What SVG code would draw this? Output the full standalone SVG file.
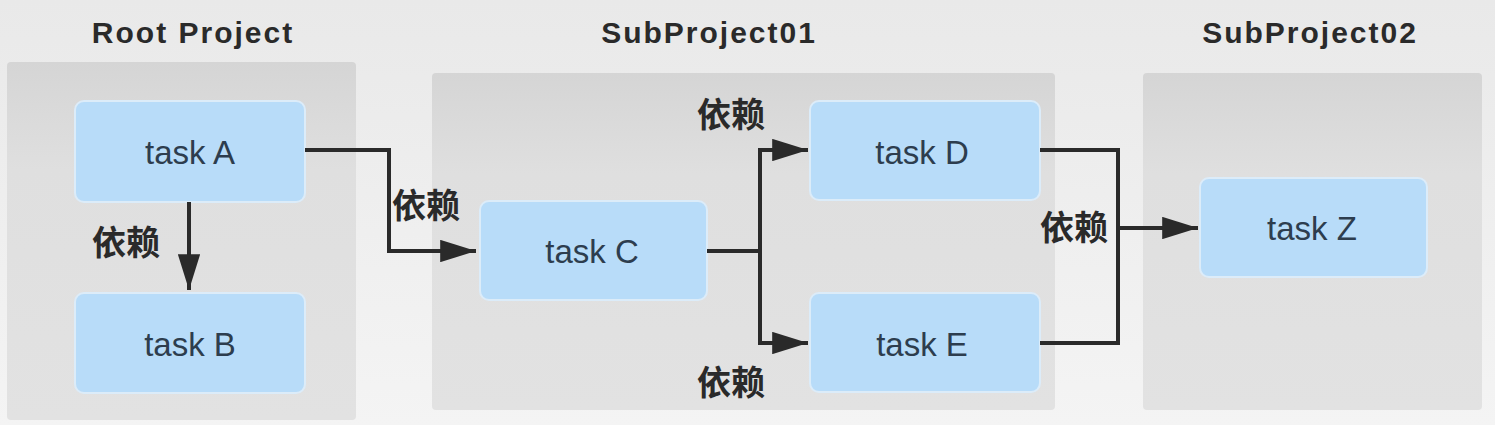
<svg xmlns="http://www.w3.org/2000/svg" width="1495" height="425" viewBox="0 0 1495 425">
<defs>
<linearGradient id="bg" x1="0" y1="0" x2="0" y2="1">
<stop offset="0" stop-color="#e9e9e9"/>
<stop offset="1" stop-color="#f4f4f4"/>
</linearGradient>
<linearGradient id="cont" x1="0" y1="0" x2="0" y2="1">
<stop offset="0" stop-color="#d5d5d5"/>
<stop offset="0.3" stop-color="#dfdfdf"/>
<stop offset="1" stop-color="#e2e2e2"/>
</linearGradient>
<marker id="arr" viewBox="0 0 16 10" refX="16" refY="5" markerWidth="9" markerHeight="5.6" markerUnits="strokeWidth" orient="auto">
<path d="M0,0 L16,5 L0,10 z" fill="#2a2a2a"/>
</marker>
<style>
.cont{fill:url(#cont);}
.task{fill:#b8dcf9;stroke:#dcecf9;stroke-width:2;}
.tl{font-family:"Liberation Sans",Arial,sans-serif;font-size:33px;fill:#2d3d4e;text-anchor:middle;dominant-baseline:central;}
.title{font-family:"Liberation Sans",Arial,sans-serif;font-size:30px;font-weight:bold;fill:#2a2a2a;text-anchor:middle;letter-spacing:2px;}
.dep{font-family:"Liberation Sans","Noto Sans CJK SC",sans-serif;font-size:34px;font-weight:bold;fill:#2a2a2a;text-anchor:middle;dominant-baseline:central;}
.ln{fill:none;stroke:#2a2a2a;stroke-width:4;}
</style>
</defs>
<rect x="0" y="0" width="1495" height="425" fill="url(#bg)"/>
<g id="root-project">
<rect class="cont" x="7" y="62" width="349" height="358" rx="4"/>
<text class="title" x="193" y="43">Root Project</text>
</g>
<g id="subproject01">
<rect class="cont" x="432" y="73" width="623" height="337" rx="4"/>
<text class="title" x="709" y="43">SubProject01</text>
</g>
<g id="subproject02">
<rect class="cont" x="1143" y="73" width="339" height="337" rx="4"/>
<text class="title" x="1310" y="43">SubProject02</text>
</g>
<g id="task-a"><rect class="task" x="75" y="101" width="230" height="101" rx="9"/><text class="tl" x="190" y="152">task A</text></g>
<g id="task-b"><rect class="task" x="75" y="293" width="230" height="100" rx="9"/><text class="tl" x="190" y="344">task B</text></g>
<g id="task-c"><rect class="task" x="480" y="201" width="227" height="99" rx="9"/><text class="tl" x="592" y="251">task C</text></g>
<g id="task-d"><rect class="task" x="810" y="101" width="230" height="99" rx="9"/><text class="tl" x="922" y="152">task D</text></g>
<g id="task-e"><rect class="task" x="810" y="293" width="230" height="99" rx="9"/><text class="tl" x="922" y="344">task E</text></g>
<g id="task-z"><rect class="task" x="1200" y="178" width="227" height="99" rx="9"/><text class="tl" x="1312" y="228">task Z</text></g>
<g id="connectors">
<path class="ln" d="M189,202 V290" marker-end="url(#arr)"/>
<path class="ln" d="M305,150 H389 V251 H476" marker-end="url(#arr)"/>
<path class="ln" d="M707,251 H760"/>
<path class="ln" d="M760,251 V150 H808" marker-end="url(#arr)"/>
<path class="ln" d="M760,251 V343 H808" marker-end="url(#arr)"/>
<path class="ln" d="M1040,150 H1118 V343 H1040"/>
<path class="ln" d="M1118,228 H1198" marker-end="url(#arr)"/>
<text class="dep" x="126" y="243">依赖</text>
<text class="dep" x="426" y="206">依赖</text>
<text class="dep" x="731" y="115">依赖</text>
<text class="dep" x="731" y="383">依赖</text>
<text class="dep" x="1074" y="228">依赖</text>
</g>
</svg>
